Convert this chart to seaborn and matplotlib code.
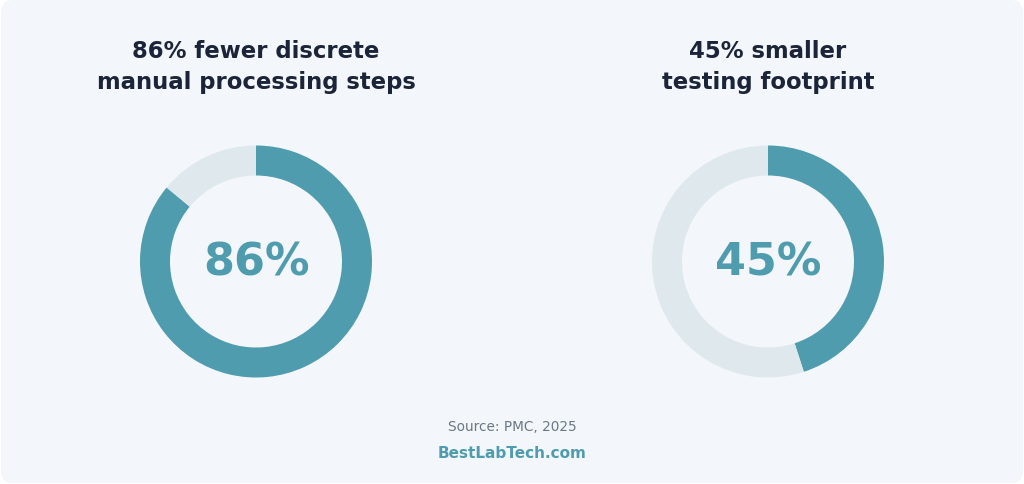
import matplotlib
matplotlib.use("Agg")
import matplotlib.pyplot as plt
import seaborn as sns
from matplotlib.patches import FancyBboxPatch

# values
titles = ["86% fewer discrete\nmanual processing steps", "45% smaller\ntesting footprint"]
percents = [86, 45]
labels = ["86%", "45%"]
source = "Source: PMC, 2025"
brand = "BestLabTech.com"

teal = "#4e9cae"
track = "#dfe9ed"
navy = "#1b2438"
card = "#f3f6fa"

sns.set_theme(style="white")
plt.rcParams["font.family"] = ["DejaVu Sans"]

W, H = 1024, 485
fig = plt.figure(figsize=(W / 100, H / 100), dpi=100, facecolor="white")

# rounded card background
bg = FancyBboxPatch((1, 1), W - 2, H - 2, boxstyle="round,pad=0,rounding_size=12",
                    transform=None, facecolor=card, edgecolor="none", zorder=-5)
fig.patches.append(bg)

centers_x = [256, 768]
cy = 262.5
r_out = 116
ring = 30

for cx, pct, lab, title in zip(centers_x, percents, labels, titles):
    ax = fig.add_axes([(cx - r_out) / W, (H - cy - r_out) / H, 2 * r_out / W, 2 * r_out / H])
    ax.set_zorder(2)
    ax.patch.set_visible(False)
    ax.pie([pct, 100 - pct], colors=[teal, track], startangle=90, counterclock=False,
           radius=1, wedgeprops=dict(width=ring / r_out, edgecolor="none", linewidth=0))
    ax.set_xlim(-1, 1)
    ax.set_ylim(-1, 1)
    ax.set_aspect("equal")
    ax.axis("off")
    ax.text(0, -0.115, lab, ha="center", va="baseline", fontsize=32, fontweight="bold", color=teal)
    fig.text(cx / W, 1 - 67 / H, title, ha="center", va="center", fontsize=16.4,
             fontweight="bold", color=navy, linespacing=1.42)

fig.text(512 / W, 1 - 427 / H, source, ha="center", va="center", fontsize=9.8, color="#6b7786")
fig.text(512 / W, 1 - 454 / H, brand, ha="center", va="center", fontsize=11,
         fontweight="bold", color=teal)

fig.savefig("out.png", dpi=100, facecolor="white")
